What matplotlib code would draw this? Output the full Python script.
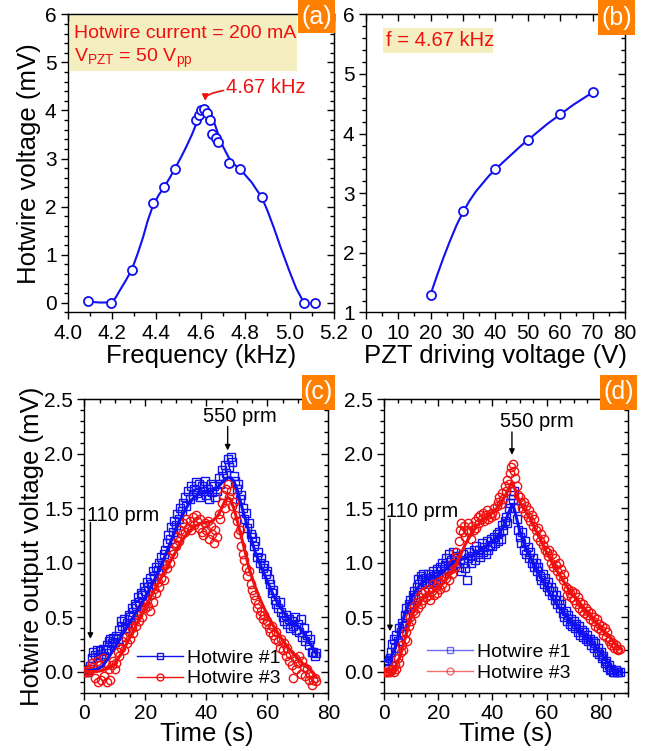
import numpy as np
import matplotlib
matplotlib.use("Agg")
import matplotlib.pyplot as plt
from matplotlib.ticker import MultipleLocator, FormatStrFormatter
from matplotlib.patches import Rectangle
from matplotlib.lines import Line2D

plt.rcParams['font.family'] = ['Liberation Sans', 'DejaVu Sans']
plt.rcParams['mathtext.fontset'] = 'custom'
plt.rcParams['mathtext.rm'] = 'Liberation Sans'

BLUE = '#1010f0'
RED = '#f01010'
ORANGE = '#ff7f00'
YELLOW = '#f4eec0'

# ---------------- Panel (a) ----------------
freq_a = [4.093, 4.193, 4.289, 4.385, 4.435, 4.483, 4.580, 4.592, 4.600, 4.615,
          4.630, 4.640, 4.649, 4.667, 4.679, 4.726, 4.775, 4.874, 5.065, 5.114]
volt_a = [0.035, 0.00, 0.69, 2.07, 2.40, 2.79, 3.80, 3.90, 4.01, 4.04,
          3.95, 3.80, 3.51, 3.43, 3.35, 2.91, 2.78, 2.20, 0.00, 0.00]
fit_f_a = [4.093, 4.12, 4.145, 4.17, 4.193, 4.215, 4.235, 4.26, 4.289, 4.315,
           4.34, 4.36, 4.385, 4.41, 4.435, 4.46, 4.483, 4.51, 4.535, 4.56, 4.58,
           4.60, 4.615, 4.628, 4.64, 4.655, 4.67, 4.685, 4.70, 4.726, 4.75, 4.775,
           4.80, 4.83, 4.85, 4.874, 4.90, 4.93, 4.96, 5.00, 5.03, 5.065]
fit_v_a = [0.035, 0.015, 0.007, 0.008, 0.02, 0.10, 0.26, 0.45, 0.69, 1.02,
           1.37, 1.70, 2.03, 2.24, 2.41, 2.60, 2.79, 3.02, 3.25, 3.50, 3.73,
           3.93, 4.02, 4.06, 4.00, 3.82, 3.62, 3.42, 3.25, 3.02, 2.88, 2.78,
           2.66, 2.50, 2.36, 2.20, 1.92, 1.55, 1.15, 0.65, 0.30, 0.00]

# ---------------- Panel (b) ----------------
pzt_b = [20, 30, 40, 50, 60, 70]
volt_b = [1.30, 2.70, 3.40, 3.90, 4.32, 4.69]
fit_x_b = [20, 22, 24, 26, 28, 30, 32, 34, 36, 38, 40, 44, 48, 52, 56, 60, 64, 68, 70]
fit_y_b = [1.30, 1.62, 1.92, 2.20, 2.46, 2.68, 2.87, 3.03, 3.16, 3.29, 3.40, 3.60,
           3.80, 3.98, 4.16, 4.32, 4.48, 4.62, 4.69]

# ---------------- Panel (c) ----------------
time_c = np.arange(0, 76.01, 0.5)
hw1_c = [0.00, 0.01, 0.00, 0.02, 0.05, 0.12, 0.18, 0.15, 0.20, 0.13,
         0.19, 0.16, 0.21, 0.14, 0.20, 0.24, 0.28, 0.30, 0.26, 0.31,
         0.27, 0.33, 0.30, 0.38, 0.46, 0.42, 0.48, 0.40, 0.45, 0.52,
         0.50, 0.58, 0.55, 0.62, 0.60, 0.68, 0.64, 0.72, 0.70, 0.78,
         0.74, 0.82, 0.78, 0.86, 0.80, 0.92, 0.88, 0.96, 0.93, 1.00,
         1.05, 0.98, 1.08, 1.12, 1.18, 1.25, 1.22, 1.33, 1.28, 1.38,
         1.35, 1.45, 1.40, 1.50, 1.47, 1.55, 1.60, 1.52, 1.66, 1.58,
         1.70, 1.62, 1.68, 1.74, 1.64, 1.72, 1.60, 1.70, 1.66, 1.75,
         1.62, 1.68, 1.58, 1.72, 1.65, 1.70, 1.60, 1.66, 1.78, 1.72,
         1.85, 1.80, 1.90, 1.82, 1.95, 1.88, 1.97, 1.92, 1.80, 1.75,
         1.68, 1.72, 1.58, 1.62, 1.50, 1.40, 1.46, 1.32, 1.36, 1.26,
         1.24, 1.15, 1.20, 1.05, 1.10, 1.00, 1.04, 0.95, 0.98, 0.90,
         0.92, 0.85, 0.80, 0.72, 0.75, 0.66, 0.62, 0.58, 0.64, 0.55,
         0.50, 0.46, 0.52, 0.44, 0.48, 0.40, 0.46, 0.42, 0.50, 0.38,
         0.44, 0.36, 0.48, 0.32, 0.40, 0.28, 0.34, 0.24, 0.30, 0.18,
         0.18, 0.14, 0.17]
hw3_c = [0.00, 0.00, 0.01, 0.00, 0.02, 0.08, 0.04, -0.06, 0.10, -0.10,
         0.06, -0.08, 0.12, -0.04, 0.08, -0.10, 0.02, -0.08, 0.06, 0.10,
         0.02, 0.08, 0.18, 0.14, 0.22, 0.28, 0.20, 0.32, 0.26, 0.36,
         0.30, 0.40, 0.35, 0.48, 0.42, 0.52, 0.46, 0.58, 0.50, 0.62,
         0.58, 0.66, 0.60, 0.56, 0.70, 0.64, 0.76, 0.72, 0.82, 0.78,
         0.86, 0.92, 0.84, 0.98, 0.95, 1.05, 1.00, 1.12, 1.08, 1.18,
         1.15, 1.24, 1.20, 1.30, 1.26, 1.36, 1.28, 1.40, 1.32, 1.38,
         1.30, 1.42, 1.35, 1.44, 1.38, 1.32, 1.40, 1.28, 1.25, 1.36,
         1.30, 1.38, 1.22, 1.34, 1.26, 1.18, 1.30, 1.24, 1.45, 1.40,
         1.55, 1.62, 1.50, 1.68, 1.72, 1.60, 1.66, 1.52, 1.56, 1.44,
         1.38, 1.26, 1.30, 1.15, 1.08, 1.02, 0.95, 0.88, 0.92, 0.80,
         0.75, 0.70, 0.66, 0.58, 0.62, 0.52, 0.56, 0.48, 0.52, 0.44,
         0.46, 0.40, 0.36, 0.42, 0.34, 0.30, 0.36, 0.28, 0.22, 0.30,
         0.20, 0.26, 0.14, 0.22, 0.10, 0.16, 0.06, -0.06, 0.12, 0.02,
         0.08, 0.14, -0.02, 0.10, 0.04, -0.04, 0.02, -0.08, -0.02, -0.12,
         -0.08, -0.06, -0.09]
fit_t_c = [0, 2, 4, 6, 8, 10, 12, 14, 16, 18, 20, 22, 24, 26, 28, 30, 32, 34, 36,
           38, 40, 42, 44, 46, 47, 48, 49, 50, 52, 54, 56, 58, 60, 62, 64, 66, 68,
           70, 72, 74, 76]
fit1_c = [0.00, 0.01, 0.02, 0.05, 0.13, 0.22, 0.32, 0.41, 0.50, 0.59, 0.68, 0.79,
          0.90, 1.03, 1.17, 1.31, 1.43, 1.53, 1.60, 1.64, 1.65, 1.66, 1.70, 1.76,
          1.78, 1.78, 1.75, 1.68, 1.48, 1.28, 1.10, 0.96, 0.83, 0.70, 0.60, 0.52,
          0.46, 0.42, 0.35, 0.26, 0.16]
fit3_c = [0.00, 0.00, 0.00, 0.01, 0.03, 0.07, 0.16, 0.26, 0.37, 0.48, 0.59, 0.70,
          0.80, 0.90, 1.00, 1.10, 1.20, 1.28, 1.33, 1.36, 1.37, 1.38, 1.44, 1.56,
          1.60, 1.58, 1.50, 1.40, 1.18, 0.95, 0.78, 0.64, 0.52, 0.42, 0.33, 0.25,
          0.18, 0.12, 0.06, 0.02, -0.05]

# ---------------- Panel (d) ----------------
time_d = np.arange(0, 87.01, 0.5)
hw1_d = [0.10, 0.10, 0.10, 0.11, 0.12, 0.18, 0.25, 0.30, 0.22, 0.34,
         0.28, 0.40, 0.36, 0.45, 0.42, 0.52, 0.58, 0.50, 0.62, 0.66,
         0.60, 0.70, 0.74, 0.68, 0.78, 0.85, 0.80, 0.88, 0.84, 0.90,
         0.86, 0.82, 0.90, 0.80, 0.86, 0.84, 0.92, 0.88, 0.82, 0.94,
         0.90, 0.96, 0.88, 1.00, 0.94, 0.98, 1.04, 0.95, 1.08, 1.02,
         0.98, 1.10, 1.04, 1.00, 1.06, 0.96, 1.02, 0.92, 1.08, 1.00,
         0.95, 0.84, 1.04, 1.10, 1.00, 1.06, 1.12, 1.02, 1.15, 1.08,
         1.12, 1.05, 1.18, 1.10, 1.14, 1.08, 1.20, 1.12, 1.16, 1.22,
         1.15, 1.24, 1.18, 1.26, 1.20, 1.28, 1.22, 1.35, 1.30, 1.38,
         1.42, 1.36, 1.50, 1.55, 1.62, 1.58, 1.66, 1.50, 1.40, 1.30,
         1.24, 1.18, 1.28, 1.12, 1.20, 1.08, 1.14, 1.04, 1.10, 1.00,
         1.04, 0.96, 1.00, 0.92, 0.96, 0.88, 0.84, 0.90, 0.80, 0.86,
         0.78, 0.82, 0.74, 0.78, 0.70, 0.74, 0.66, 0.70, 0.62, 0.66,
         0.58, 0.62, 0.54, 0.50, 0.56, 0.46, 0.52, 0.44, 0.48, 0.42,
         0.46, 0.40, 0.44, 0.36, 0.42, 0.34, 0.38, 0.32, 0.36, 0.30,
         0.34, 0.28, 0.30, 0.24, 0.28, 0.22, 0.26, 0.18, 0.22, 0.16,
         0.18, 0.12, 0.14, 0.08, 0.10, 0.04, 0.06, 0.01, 0.02, 0.00,
         0.00, 0.01, 0.00, 0.00, 0.00]
hw3_d = [0.00, 0.00, 0.00, 0.00, 0.00, 0.01, 0.02, 0.00, 0.06, 0.02,
         0.12, 0.08, 0.18, 0.24, 0.20, 0.30, 0.36, 0.28, 0.42, 0.50,
         0.46, 0.56, 0.60, 0.54, 0.64, 0.58, 0.68, 0.62, 0.72, 0.66,
         0.74, 0.68, 0.76, 0.70, 0.66, 0.74, 0.80, 0.70, 0.78, 0.72,
         0.82, 0.76, 0.84, 0.80, 0.88, 0.78, 0.86, 0.92, 0.84, 0.94,
         0.90, 1.00, 0.96, 1.10, 1.05, 1.20, 1.30, 1.36, 1.28, 1.34,
         1.24, 1.30, 1.36, 1.28, 1.22, 1.34, 1.30, 1.38, 1.32, 1.42,
         1.36, 1.44, 1.40, 1.46, 1.38, 1.44, 1.48, 1.40, 1.45, 1.42,
         1.46, 1.50, 1.44, 1.52, 1.56, 1.60, 1.54, 1.64, 1.58, 1.70,
         1.66, 1.76, 1.72, 1.82, 1.88, 1.91, 1.84, 1.78, 1.70, 1.62,
         1.60, 1.55, 1.50, 1.56, 1.46, 1.52, 1.42, 1.48, 1.38, 1.44,
         1.34, 1.40, 1.30, 1.24, 1.32, 1.20, 1.26, 1.16, 1.22, 1.12,
         1.10, 1.06, 1.12, 1.00, 1.08, 0.96, 1.04, 0.98, 0.92, 1.00,
         0.88, 0.94, 0.84, 0.90, 0.78, 0.70, 0.76, 0.72, 0.68, 0.74,
         0.66, 0.72, 0.62, 0.68, 0.58, 0.64, 0.56, 0.62, 0.54, 0.58,
         0.52, 0.56, 0.48, 0.54, 0.46, 0.50, 0.42, 0.48, 0.40, 0.44,
         0.38, 0.42, 0.34, 0.40, 0.32, 0.36, 0.28, 0.30, 0.24, 0.26,
         0.22, 0.24, 0.21, 0.20, 0.21]
fit_t_d = [0, 2, 4, 6, 8, 10, 12, 14, 16, 18, 20, 22, 24, 26, 28, 30, 32, 34, 36,
           38, 40, 42, 44, 46, 47, 48, 49, 50, 52, 54, 56, 58, 60, 62, 64, 66, 68,
           70, 72, 74, 76, 78, 80, 82, 84, 86, 87]
fit1_d = [0.10, 0.11, 0.22, 0.40, 0.56, 0.67, 0.76, 0.82, 0.85, 0.86, 0.88, 0.92,
          0.97, 1.01, 1.03, 1.04, 1.06, 1.09, 1.12, 1.16, 1.20, 1.25, 1.33, 1.46,
          1.52, 1.50, 1.40, 1.30, 1.15, 1.05, 0.95, 0.86, 0.77, 0.68, 0.61, 0.55,
          0.49, 0.43, 0.38, 0.33, 0.28, 0.23, 0.17, 0.10, 0.03, 0.00, 0.00]
fit3_d = [0.00, 0.00, 0.03, 0.15, 0.33, 0.50, 0.60, 0.66, 0.70, 0.73, 0.77, 0.82,
          0.88, 0.96, 1.06, 1.17, 1.26, 1.33, 1.38, 1.42, 1.46, 1.51, 1.58, 1.68,
          1.73, 1.70, 1.63, 1.56, 1.48, 1.40, 1.30, 1.20, 1.10, 1.00, 0.92, 0.84,
          0.76, 0.70, 0.64, 0.58, 0.52, 0.46, 0.40, 0.35, 0.30, 0.24, 0.21]

TICK_FS = 15
LABEL_FS = 18.5
ANN_FS = 14.5
BOX_FS = 14
LEG_FS = 14

fig = plt.figure(figsize=(6.49, 7.51), dpi=100)


def style_axes(ax, xmaj, xmin, ymaj, ymin):
    ax.xaxis.set_major_locator(MultipleLocator(xmaj))
    ax.xaxis.set_minor_locator(MultipleLocator(xmin))
    ax.yaxis.set_major_locator(MultipleLocator(ymaj))
    ax.yaxis.set_minor_locator(MultipleLocator(ymin))
    ax.tick_params(which='both', direction='out', top=False, right=False,
                   labelsize=TICK_FS, width=1, colors='black', pad=3)
    ax.tick_params(which='major', length=5)
    ax.tick_params(which='minor', length=3)
    for s in ax.spines.values():
        s.set_linewidth(1.0)
    sx = ax.secondary_xaxis('top')
    sx.xaxis.set_major_locator(MultipleLocator(xmaj))
    sx.xaxis.set_minor_locator(MultipleLocator(xmin))
    sx.tick_params(which='both', direction='in', labeltop=False, width=1)
    sx.tick_params(which='major', length=5)
    sx.tick_params(which='minor', length=3)
    sy = ax.secondary_yaxis('right')
    sy.yaxis.set_major_locator(MultipleLocator(ymaj))
    sy.yaxis.set_minor_locator(MultipleLocator(ymin))
    sy.tick_params(which='both', direction='in', labelright=False, width=1)
    sy.tick_params(which='major', length=5)
    sy.tick_params(which='minor', length=3)


def panel_label(x0, y0, w, h, text):
    fig.patches.append(Rectangle((x0, y0), w, h, transform=fig.transFigure,
                                 facecolor=ORANGE, edgecolor='none', zorder=10))
    fig.text(x0 + w / 2, y0 + h / 2, text, color='white', fontsize=18,
             ha='center', va='center', zorder=11)


# ---------- (a) ----------
axa = fig.add_axes([0.1043, 0.5839, 0.4103, 0.3971])
axa.plot(fit_f_a, fit_v_a, color=BLUE, lw=1.5, zorder=2)
axa.plot(freq_a, volt_a, linestyle='none', marker='o', ms=6.5, mfc='white',
         mec=BLUE, mew=1.3, zorder=3)
axa.set_xlim(4.0, 5.2)
axa.set_ylim(-0.2, 6)
style_axes(axa, 0.2, 0.1, 1, 0.2)
axa.xaxis.set_major_formatter(FormatStrFormatter('%.1f'))
axa.set_xlabel('Frequency (kHz)', fontsize=LABEL_FS, labelpad=1)
axa.set_ylabel('Hotwire voltage (mV)', fontsize=LABEL_FS, labelpad=3)
axa.add_patch(Rectangle((0.009, 0.81), 0.852, 0.188, transform=axa.transAxes,
                        facecolor=YELLOW, edgecolor='none', zorder=1))
axa.text(0.022, 0.935, 'Hotwire current = 200 mA', transform=axa.transAxes,
         color=RED, fontsize=BOX_FS, va='center', ha='left', zorder=4)
axa.text(0.022, 0.852, r'V$_{\mathregular{PZT}}$ = 50 V$_{\mathregular{pp}}$',
         transform=axa.transAxes, color=RED, fontsize=BOX_FS, va='center',
         ha='left', zorder=4)
axa.annotate('4.67 kHz', xy=(4.62, 4.2), xytext=(4.715, 4.47), color=RED,
             fontsize=ANN_FS, ha='left', va='center',
             arrowprops=dict(arrowstyle='-|>', color=RED, lw=1.2,
                             mutation_scale=9,
                             connectionstyle='angle3,angleA=0,angleB=90',
                             shrinkA=0, shrinkB=0))
panel_label(0.4592, 0.956, 0.057, 0.044, '(a)')

# ---------- (b) ----------
axb = fig.add_axes([0.5635, 0.5839, 0.3995, 0.3971])
axb.plot(fit_x_b, fit_y_b, color=BLUE, lw=1.5, zorder=2)
axb.plot(pzt_b, volt_b, linestyle='none', marker='o', ms=6.5, mfc='white',
         mec=BLUE, mew=1.3, zorder=3)
axb.set_xlim(0, 80)
axb.set_ylim(1, 6)
style_axes(axb, 10, 5, 1, 0.2)
axb.set_xlabel('PZT driving voltage (V)', fontsize=LABEL_FS, labelpad=1)
axb.add_patch(Rectangle((0.067, 0.870), 0.424, 0.084, transform=axb.transAxes,
                        facecolor=YELLOW, edgecolor='none', zorder=1))
axb.text(0.08, 0.912, 'f = 4.67 kHz', transform=axb.transAxes, color=RED,
         fontsize=ANN_FS, va='center', ha='left', zorder=4)
panel_label(0.9214, 0.953, 0.057, 0.047, '(b)')


def time_panel(ax, t, y1, y3, ft, f1, f3, xmax, xmaj):
    ax.plot(t, y1, linestyle='none', marker='s', ms=5.5, mfc='none', mec=BLUE,
            mew=1.0, zorder=2)
    ax.plot(t, y3, linestyle='none', marker='o', ms=6, mfc='none', mec=RED,
            mew=1.0, zorder=3)
    ax.plot(ft, f1, color=BLUE, lw=2.2, zorder=4)
    ax.plot(ft, f3, color=RED, lw=2.2, zorder=5)
    ax.set_xlim(0, xmax)
    ax.set_ylim(-0.2, 2.5)
    style_axes(ax, xmaj, 5, 0.5, 0.1)
    ax.yaxis.set_major_formatter(FormatStrFormatter('%.1f'))
    ax.set_xlabel('Time (s)', fontsize=LABEL_FS, labelpad=-1)


def arrow(ax, x, y0, y1):
    ax.annotate('', xy=(x, y1), xytext=(x, y0),
                arrowprops=dict(arrowstyle='-|>', color='black', lw=1.0,
                                mutation_scale=8, shrinkA=0, shrinkB=0))


# ---------- (c) ----------
axc = fig.add_axes([0.1299, 0.0768, 0.3760, 0.3915])
time_panel(axc, time_c, hw1_c, hw3_c, fit_t_c, fit1_c, fit3_c, 80, 20)
axc.set_ylabel('Hotwire output voltage (mV)', fontsize=LABEL_FS, labelpad=0)
arrow(axc, 47, 2.25, 2.03)
axc.text(51, 2.34, '550 prm', fontsize=ANN_FS, ha='center', va='center')
arrow(axc, 2, 1.37, 0.30)
axc.text(0.8, 1.43, '110 prm', fontsize=ANN_FS, ha='left', va='center')
h1 = Line2D([], [], color=BLUE, lw=1, marker='s', ms=5, mfc='none', mec=BLUE)
h3 = Line2D([], [], color=RED, lw=1, marker='o', ms=5, mfc='none', mec=RED)
axc.legend([h1, h3], ['Hotwire #1', 'Hotwire #3'], frameon=False, fontsize=LEG_FS,
           loc='lower left', bbox_to_anchor=(0.19, 0.0), handlelength=2.4,
           handletextpad=0.2, labelspacing=0.15, borderaxespad=0.1, borderpad=0.2)
panel_label(0.4653, 0.454, 0.051, 0.047, '(c)')

# ---------- (d) ----------
axd = fig.add_axes([0.5921, 0.0768, 0.3751, 0.3915])
time_panel(axd, time_d, hw1_d, hw3_d, fit_t_d, fit1_d, fit3_d, 90, 20)
arrow(axd, 47.2, 2.2, 1.99)
axd.text(56.6, 2.3, '550 prm', fontsize=ANN_FS, ha='center', va='center')
arrow(axd, 2.1, 1.40, 0.37)
axd.text(0.5, 1.47, '110 prm', fontsize=ANN_FS, ha='left', va='center')
h1d = Line2D([], [], color=BLUE, lw=1, alpha=0.6, marker='s', ms=5, mfc='none', mec=BLUE)
h3d = Line2D([], [], color=RED, lw=1, alpha=0.6, marker='o', ms=5, mfc='none', mec=RED)
axd.legend([h1d, h3d], ['Hotwire #1', 'Hotwire #3'], frameon=False, fontsize=LEG_FS,
           loc='lower left', bbox_to_anchor=(0.15, 0.02), handlelength=2.4,
           handletextpad=0.2, labelspacing=0.15, borderaxespad=0.1, borderpad=0.2)
panel_label(0.9245, 0.454, 0.057, 0.047, '(d)')

fig.savefig('out.png', dpi=100)
